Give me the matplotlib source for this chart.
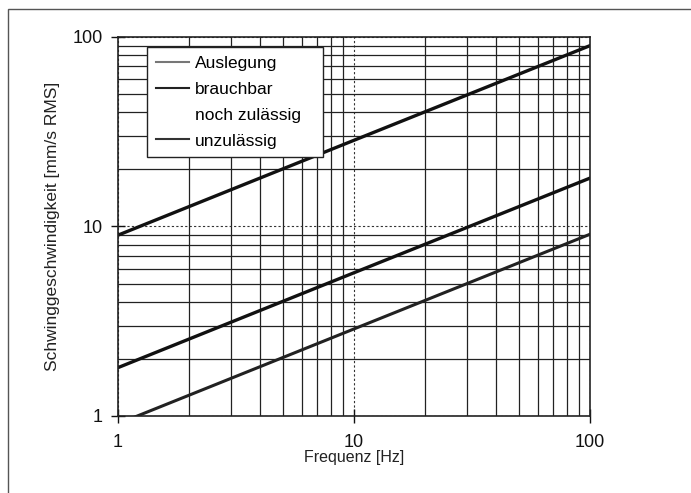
import numpy as np
import matplotlib
matplotlib.use('Agg')
import matplotlib.pyplot as plt
from matplotlib.lines import Line2D
from matplotlib.patches import Rectangle
from matplotlib.ticker import LogLocator, NullFormatter, FixedLocator

plt.rcParams['font.family'] = ['Liberation Sans', 'DejaVu Sans']

# Daten (Frequenz in Hz, Schwinggeschwindigkeit in mm/s RMS)
freq = [1, 10, 100]
auslegung = [0.91, 2.88, 9.1]
brauchbar = [1.8, 5.7, 18.0]
unzulaessig = [9.0, 28.5, 90.0]
labels = ['Auslegung', 'brauchbar', 'noch zulässig', 'unzulässig']
ticks = [1, 10, 100]

fig = plt.figure(figsize=(6.91, 4.93), dpi=100)
ax = fig.add_axes([0.1708, 0.1562, 0.6830, 0.7688])

# Rahmen um die ganze Grafik
fig.patches.append(Rectangle((8 / 691, -0.1), 1.2, 1 - 9 / 493 + 0.1,
                             transform=fig.transFigure, fill=False,
                             edgecolor='#555555', lw=1.0))

ax.set_xscale('log')
ax.set_yscale('log')
ax.set_xlim(1, 100)
ax.set_ylim(1, 100)

ax.xaxis.set_major_locator(FixedLocator(ticks))
ax.yaxis.set_major_locator(FixedLocator(ticks))
ax.xaxis.set_minor_locator(LogLocator(base=10, subs=np.arange(2, 10)))
ax.yaxis.set_minor_locator(LogLocator(base=10, subs=np.arange(2, 10)))
ax.xaxis.set_minor_formatter(NullFormatter())
ax.yaxis.set_minor_formatter(NullFormatter())
ax.set_xticklabels([str(t) for t in ticks])
ax.set_yticklabels([str(t) for t in ticks])

ax.grid(which='minor', color='#222222', lw=0.9, ls='-')
ax.grid(which='major', color='#333333', lw=0.8, ls=(0, (2, 2)))
ax.set_axisbelow(True)

ax.tick_params(which='major', direction='inout', length=10, width=1,
               labelsize=13, colors='#111111')
ax.tick_params(axis='x', which='major', pad=8)
ax.tick_params(axis='y', which='major', pad=6)
ax.tick_params(which='minor', length=0)
for s in ax.spines.values():
    s.set_color('#222222')
    s.set_linewidth(1.2)

ax.plot(freq, auslegung, color='#222222', lw=2.2)
ax.plot(freq, brauchbar, color='#111111', lw=2.4)
ax.plot(freq, unzulaessig, color='#111111', lw=2.4)

ax.set_xlabel('Frequenz [Hz]', fontsize=11.5, labelpad=-0.5, color='#222222')
ax.set_ylabel('Schwinggeschwindigkeit [mm/s RMS]', fontsize=12.5, labelpad=9,
              color='#222222')

handles = [Line2D([], [], color='#777777', lw=1.5),
           Line2D([], [], color='#222222', lw=1.5),
           Line2D([], [], color='white', lw=1.5),
           Line2D([], [], color='#333333', lw=1.5)]
leg = ax.legend(handles, labels, loc='upper left',
                bbox_to_anchor=(0.0614, 0.0, 0.373, 0.9736), mode='expand',
                fontsize=12.5, frameon=True, fancybox=False, framealpha=1,
                edgecolor='#222222', handlelength=1.9, handletextpad=0.35,
                labelspacing=0.62, borderpad=0.5, borderaxespad=0)
leg.get_frame().set_linewidth(1.0)

fig.savefig('out.png', dpi=100)
